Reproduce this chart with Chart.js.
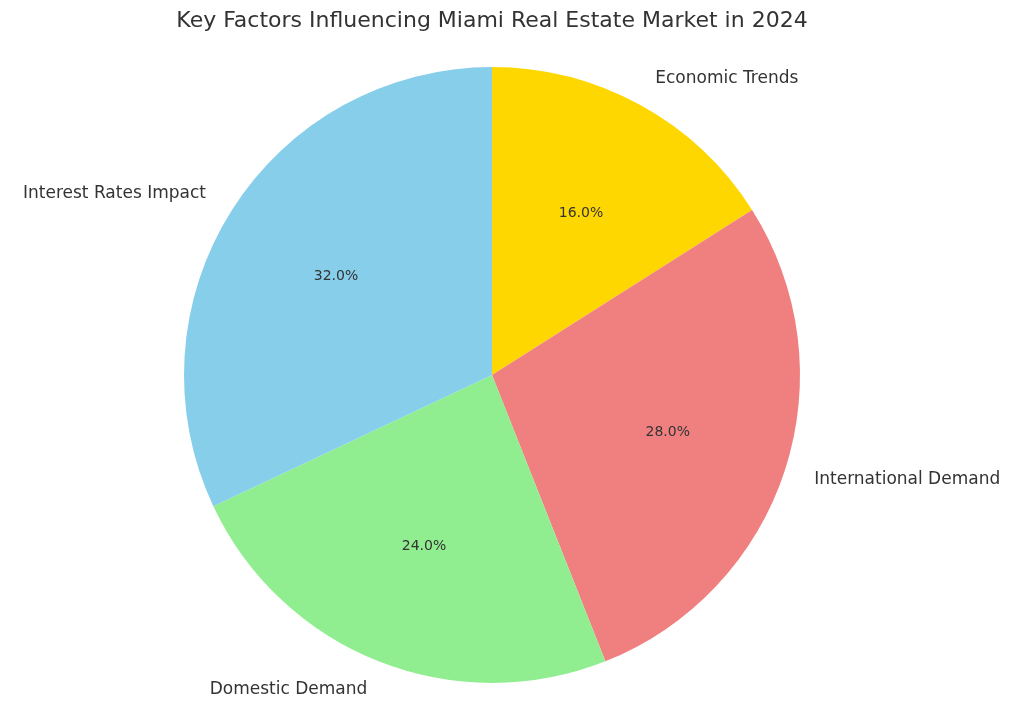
<!DOCTYPE html>
<html><head><meta charset="utf-8">
<script src="https://cdn.jsdelivr.net/npm/chart.js@4"></script>
<style>html,body{margin:0;padding:0;background:#fff}#w{width:1024px;height:722px}</style>
</head><body><div id="w"><canvas id="c"></canvas></div>
<script>
const categories = ["Economic Trends", "International Demand", "Domestic Demand", "Interest Rates Impact"];
const values = [16, 28, 24, 32];
const colors = ["#FFD700", "#F08080", "#90EE90", "#87CEEB"];
const titleText = "Key Factors Influencing Miami Real Estate Market in 2024";

const labelPlugin = {
  id: 'lbl',
  afterDraw(chart) {
    const ctx = chart.ctx;
    ctx.save();
    ctx.fillStyle = '#333';
    ctx.font = '22px "DejaVu Sans"';
    ctx.textAlign = 'center'; ctx.textBaseline = 'middle';
    ctx.fillText(titleText, 492, 21);
    const meta = chart.getDatasetMeta(0);
    const total = values.reduce((a, b) => a + b, 0);
    meta.data.forEach((arc, i) => {
      const mid = (arc.startAngle + arc.endAngle) / 2;
      const r = arc.outerRadius;
      const cx = arc.x, cy = arc.y;
      const lx = cx + Math.cos(mid) * r * 1.1, ly = cy + Math.sin(mid) * r * 1.1;
      ctx.font = '17px "DejaVu Sans"';
      ctx.textAlign = Math.cos(mid) >= 0 ? 'left' : 'right';
      ctx.fillText(categories[i], lx, ly);
      const px = cx + Math.cos(mid) * r * 0.6, py = cy + Math.sin(mid) * r * 0.6;
      ctx.font = '14px "DejaVu Sans"';
      ctx.textAlign = 'center';
      ctx.fillText((values[i] / total * 100).toFixed(1) + '%', px, py);
    });
    ctx.restore();
  }
};

new Chart(document.getElementById('c'), {
  type: 'pie',
  data: { labels: categories, datasets: [{ data: values, backgroundColor: colors, borderWidth: 0 }] },
  options: {
    responsive: true, maintainAspectRatio: false, animation: false,
    layout: { padding: { left: 184, right: 224, top: 67, bottom: 39 } },
    plugins: { legend: { display: false }, tooltip: { enabled: false }, title: { display: false } }
  },
  plugins: [labelPlugin]
});
</script></body></html>
